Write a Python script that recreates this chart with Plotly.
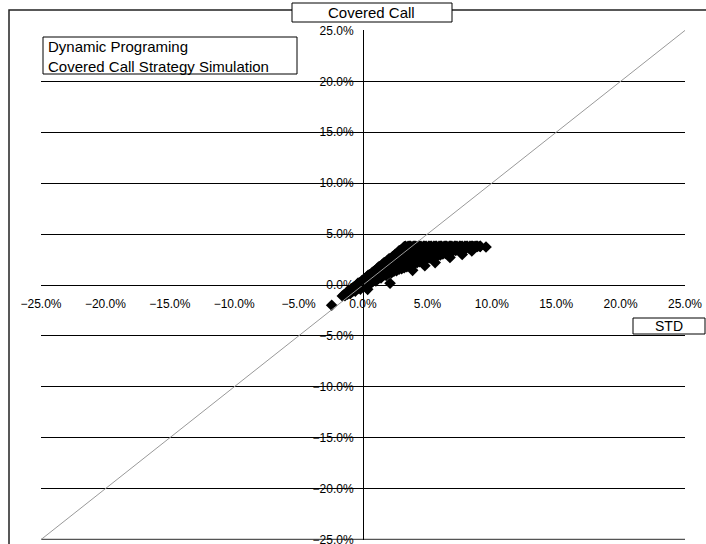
import plotly.graph_objects as go

# ---- data (percent values; displayed as %) ----
# interior of the cloud
std_vals = [
    -2.43,
    -1.6,
    -1.2, -1.2,
    -0.8, -0.8,
    -0.4, -0.4, -0.4,
    0.0, 0.0, 0.0,
    0.4, 0.4, 0.4, 0.4,
    0.8, 0.8, 0.8, 0.8,
    1.2, 1.2, 1.2, 1.2, 1.2,
    1.6, 1.6, 1.6, 1.6, 1.6,
    2.0, 2.0, 2.0, 2.0, 2.0, 2.0,
    2.4, 2.4, 2.4, 2.4, 2.4, 2.4,
    2.8, 2.8, 2.8, 2.8, 2.8, 2.8, 2.8,
    3.2, 3.2, 3.2, 3.2, 3.2, 3.2, 3.2, 3.2,
    3.6, 3.6, 3.6, 3.6, 3.6, 3.6, 3.6,
    4.0, 4.0, 4.0, 4.0, 4.0, 4.0, 4.0,
    4.4, 4.4, 4.4, 4.4, 4.4, 4.4,
    4.8, 4.8, 4.8, 4.8, 4.8,
    5.2, 5.2, 5.2, 5.2, 5.2,
    5.6, 5.6, 5.6, 5.6,
    6.0, 6.0, 6.0, 6.0,
    6.4, 6.4, 6.4,
    6.8, 6.8, 6.8,
    7.2, 7.2, 7.2,
    7.6, 7.6,
    8.0, 8.0,
    8.4, 8.4,
    8.8,
    9.1,
    9.55,
    0.36, 2.1, 3.85, 4.8, 5.6, 6.75, 7.7, 8.45,
]
ret_vals = [
    -1.99,
    -1.08,
    -0.9, -0.65,
    -0.6, -0.3,
    -0.35, -0.1, 0.15,
    -0.15, 0.15, 0.45,
    0.15, 0.45, 0.75, 0.95,
    0.4, 0.7, 1.0, 1.3,
    0.65, 0.95, 1.25, 1.55, 1.75,
    0.95, 1.25, 1.55, 1.85, 2.15,
    1.2, 1.5, 1.8, 2.1, 2.4, 2.55,
    1.35, 1.65, 1.95, 2.25, 2.55, 2.85,
    1.55, 1.85, 2.15, 2.45, 2.75, 3.05, 3.35,
    1.7, 2.0, 2.3, 2.6, 2.9, 3.2, 3.5, 3.75,
    1.9, 2.2, 2.5, 2.8, 3.1, 3.4, 3.8,
    2.1, 2.4, 2.7, 3.0, 3.3, 3.6, 3.8,
    2.3, 2.6, 2.9, 3.2, 3.5, 3.8,
    2.5, 2.8, 3.1, 3.4, 3.8,
    2.65, 2.95, 3.25, 3.55, 3.8,
    2.8, 3.1, 3.4, 3.8,
    2.95, 3.25, 3.55, 3.8,
    3.1, 3.4, 3.8,
    3.25, 3.55, 3.8,
    3.4, 3.6, 3.8,
    3.5, 3.8,
    3.6, 3.8,
    3.7, 3.8,
    3.8,
    3.8,
    3.73,
    -0.42, 0.17, 1.44, 1.9, 2.2, 2.7, 3.0, 3.35,
]
# flat upper edge of the cloud
top_std = [3.3, 3.5, 3.7, 3.9, 4.1, 4.3, 4.5, 4.7, 4.9, 5.1, 5.3, 5.5, 5.7, 5.9,
           6.1, 6.3, 6.5, 6.7, 6.9, 7.1, 7.3, 7.5, 7.7, 7.9, 8.1, 8.3, 8.5, 8.7,
           8.9, 9.1]
top_ret = [3.8, 3.8, 3.8, 3.8, 3.8, 3.8, 3.8, 3.8, 3.8, 3.8, 3.8, 3.8, 3.8, 3.8,
           3.8, 3.8, 3.8, 3.8, 3.8, 3.8, 3.8, 3.8, 3.8, 3.8, 3.8, 3.8, 3.8, 3.8,
           3.8, 3.8]
# rising upper-left edge of the cloud
rise_std = [-1.5, -1.3, -1.1, -0.9, -0.7, -0.5, -0.3, -0.1, 0.1, 0.3, 0.5, 0.7,
            0.9, 1.1, 1.3, 1.5, 1.7, 1.9, 2.1, 2.3, 2.5, 2.7, 2.9, 3.1, 3.25]
rise_ret = [-1.0, -0.8, -0.6, -0.4, -0.2, 0.0, 0.2, 0.4, 0.6, 0.8, 1.0, 1.2,
            1.4, 1.6, 1.8, 2.0, 2.2, 2.4, 2.6, 2.8, 3.0, 3.2, 3.4, 3.6, 3.75]
# lower edge of the cloud
low_std = [-1.4, -1.0, -0.6, -0.2, 0.2, 0.6, 1.0, 1.4, 1.8, 2.2, 2.6, 3.0, 3.4,
           3.8, 4.2, 4.6, 5.0, 5.4, 5.8, 6.2, 6.6, 7.0, 7.4, 7.8, 8.2, 8.6]
low_ret = [-1.05, -0.85, -0.6, -0.4, -0.15, 0.15, 0.4, 0.7, 0.95, 1.2, 1.4, 1.6,
           1.8, 2.0, 2.2, 2.4, 2.6, 2.75, 2.9, 3.05, 3.2, 3.35, 3.45, 3.55, 3.65,
           3.75]

diag_x = [-25.0, 25.0]
diag_y = [-25.0, 25.0]
tick_vals = [-25, -20, -15, -10, -5, 0, 5, 10, 15, 20, 25]

title_text = "Covered Call"
legend_text = "Dynamic Programing<br>Covered Call Strategy Simulation"
x_title = "STD"

FONT = "Liberation Sans, Arial, sans-serif"

all_x = std_vals + top_std + rise_std + low_std
all_y = ret_vals + top_ret + rise_ret + low_ret

fig = go.Figure()
fig.add_trace(go.Scatter(
    x=[v / 100 for v in all_x], y=[v / 100 for v in all_y],
    mode="markers",
    marker=dict(symbol="diamond", size=9, color="black", line=dict(width=0)),
    showlegend=False, hoverinfo="skip",
))
fig.add_trace(go.Scatter(
    x=[v / 100 for v in diag_x], y=[v / 100 for v in diag_y],
    mode="lines", line=dict(color="#999999", width=1),
    showlegend=False, hoverinfo="skip",
))

ticks = [v / 100 for v in tick_vals]
fig.update_layout(
    width=706, height=544,
    margin=dict(l=41, r=21, t=30, b=4, autoexpand=False),
    paper_bgcolor="white", plot_bgcolor="white",
    font=dict(family=FONT, color="black", size=12),
    xaxis=dict(
        range=[-0.25, 0.25], tickvals=ticks, tickformat=".1%",
        anchor="free", position=0.5, showline=True, linecolor="black", linewidth=1,
        showgrid=False, zeroline=False, ticks="", ticklabelstandoff=8,
        tickfont=dict(size=12, family=FONT), automargin=False,
        ticklabeloverflow="allow",
    ),
    yaxis=dict(
        range=[-0.2504, 0.2504], tickvals=ticks, tickformat=".1%",
        anchor="free", position=0.5, showline=True, linecolor="black", linewidth=1,
        showgrid=True, gridcolor="black", gridwidth=1, zeroline=False,
        ticks="", ticklabelstandoff=7, tickfont=dict(size=12, family=FONT),
        automargin=False, ticklabeloverflow="allow",
    ),
)

def px_x(p):
    return (p - 41) / 644

def px_y(p):
    return (540 - p) / 510

shapes = [
    # bottom gridline (plotly drops the one at the range edge)
    dict(type="line", xref="paper", yref="y", x0=0, x1=1,
         y0=ticks[0], y1=ticks[0], line=dict(color="#555555", width=1.5),
         layer="below"),
    # outer chart border
    dict(type="rect", xref="paper", yref="paper", x0=px_x(9), x1=px_x(712),
         y0=px_y(550), y1=px_y(10), line=dict(color="#222222", width=1.5),
         fillcolor="rgba(0,0,0,0)", layer="above"),
    # title box
    dict(type="rect", xref="paper", yref="paper", x0=px_x(292), x1=px_x(452),
         y0=px_y(22), y1=px_y(3), line=dict(color="black", width=1),
         fillcolor="white", layer="above"),
    # legend box
    dict(type="rect", xref="paper", yref="paper", x0=px_x(43), x1=px_x(297),
         y0=px_y(74), y1=px_y(37), line=dict(color="black", width=1),
         fillcolor="white", layer="above"),
    # STD box
    dict(type="rect", xref="paper", yref="paper", x0=px_x(633), x1=px_x(705),
         y0=px_y(334), y1=px_y(318), line=dict(color="black", width=1),
         fillcolor="white", layer="above"),
]
annotations = [
    dict(text=title_text, xref="paper", yref="paper", x=px_x(371), y=px_y(13),
         xanchor="center", yanchor="middle", showarrow=False,
         font=dict(size=15, family=FONT)),
    dict(text=legend_text, xref="paper", yref="paper", x=px_x(46), y=px_y(56),
         xanchor="left", yanchor="middle", align="left", showarrow=False,
         font=dict(size=15, family=FONT)),
    dict(text=x_title, xref="paper", yref="paper", x=px_x(669), y=px_y(326),
         xanchor="center", yanchor="middle", showarrow=False,
         font=dict(size=14, family=FONT)),
]
fig.update_layout(shapes=shapes, annotations=annotations)

fig.write_html("out.html", config={"displayModeBar": False},
               post_script="document.body.style.margin='0';")
